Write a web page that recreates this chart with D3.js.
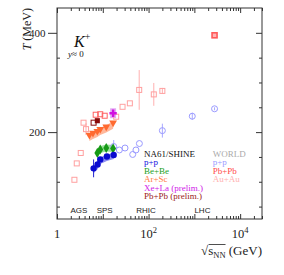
<!DOCTYPE html>
<html>
<head>
<meta charset="utf-8">
<script src="https://cdn.jsdelivr.net/npm/d3@7"></script>
<style>
body { margin: 0; background: #fff; }
svg text { font-family: "Liberation Serif", "DejaVu Serif", serif; }
svg text.sans { font-family: "Liberation Sans", Arial, sans-serif; }
</style>
</head>
<body>
<svg id="chart" width="284" height="275"></svg>
<script>
// データ: [√s_NN (GeV), T (MeV)]
const na61PP = [[6.3, 127], [7.7, 135], [8.8, 145], [12.3, 151], [17.3, 154]];
const na61PPErr = [18, 6, 5, 4, 4];
const na61PPSys = [[10, 4], [10, 4], [9, 4], [9, 4], [8, 4]];
const na61BeBe = [[7.6, 158], [8.8, 165], [11.9, 168], [16.8, 167]];
const na61BeBeSys = [[7, 7], [7, 7], [7, 7], [7, 7]];
const na61ArSc = [[5.1, 194], [6.1, 198], [7.6, 202], [8.8, 206], [11.9, 211], [16.8, 219]];
const na61ArScSys = [[12, 3], [12, 3], [12, 3], [12, 3], [12, 3], [12, 3]];
const na61XeLa = [[16.8, 238]];
const na61XeLaSys = [[10, 10]];
const na61PbPbOpen = [[6.3, 219]];
const na61PbPbFilled = [[7.6, 223]];

const worldPP = [[17.3, 171], [23, 164], [30.6, 168], [45, 155], [53, 164], [63, 177], [200, 203], [900, 232], [2760, 247]];
const worldPPErr = [13, 0, 0, 0, 0, 0, 14, 7, 3];
const worldPbPb = [[7.0, 235], [8.8, 236], [11.0, 233]];
const worldPbPbLHC = [[2760, 395]];
const worldAuAu = [[2.4, 104], [2.7, 137], [3.3, 158], [3.8, 219], [4.3, 206], [19.6, 231], [27, 251], [39, 258], [62.4, 285], [130, 276], [200, 283]];
const worldAuAuErr = [0, 0, 0, 0, 12, 0, 0, 0, 40, 23, 6];

// 軸の目盛り
const xTickLabels = [[1, "1", ""], [100, "10", "2"], [10000, "10", "4"]];
const yTickLabels = [200, 400];
const yMinorTicks = [50, 100, 150, 250, 300, 350];
const accelerators = [["AGS", 3], ["SPS", 11], ["RHIC", 88], ["LHC", 1500]];

// 凡例
const legendNA61 = [["NA61/SHINE", "#111"], ["p+p", "#1010e0"], ["Be+Be", "#1aa01a"], ["Ar+Sc", "#ff7a45"], ["Xe+La (prelim.)", "#d020e8"], ["Pb+Pb (prelim.)", "#9a2020"]];
const legendWorld = [["WORLD", "#aaa"], ["p+p", "#9a9aff"], ["Pb+Pb", "#ff4a4a"], ["Au+Au", "#ffb0b0"]];

const width = 284, height = 275;
const margin = {top: 8, right: 22, bottom: 56, left: 57};

const svg = d3.select("#chart");

const x = d3.scaleLog()
    .domain([1, 3e4])
    .range([margin.left, width - margin.right]);
const y = d3.scaleLinear()
    .domain([25, 450])
    .range([height - margin.bottom, margin.top]);

const plot = svg.append("g");

// 系統誤差の帯
function band(data, sys, color) {
    const area = d3.area()
        .x(d => x(d[0]))
        .y0((d, i) => y(d[1] - sys[i][0]))
        .y1((d, i) => y(d[1] + sys[i][1]));
    plot.append("path")
        .datum(data)
        .attr("d", area)
        .attr("fill", color);
}
band(na61PP, na61PPSys, "#8e8ef0");
band(na61BeBe, na61BeBeSys, "#9be09b");
band(na61ArSc, na61ArScSys, "#ffb89c");

// Xe+La の箱
plot.selectAll("rect.xesys")
    .data(na61XeLa)
    .enter().append("rect")
    .attr("class", "xesys")
    .attr("x", d => x(d[0]) - 3)
    .attr("y", (d, i) => y(d[1] + na61XeLaSys[i][1]))
    .attr("width", 6)
    .attr("height", (d, i) => y(d[1] - na61XeLaSys[i][0]) - y(d[1] + na61XeLaSys[i][1]))
    .attr("fill", "#e4a8f4");

// エラーバー
function errBars(data, err, color) {
    plot.selectAll(null)
        .data(data.map((d, i) => [d[0], d[1], err[i]]).filter(d => d[2] > 0))
        .enter().append("line")
        .attr("x1", d => x(d[0]))
        .attr("x2", d => x(d[0]))
        .attr("y1", d => y(d[1] - d[2]))
        .attr("y2", d => y(d[1] + d[2]))
        .attr("stroke", color)
        .attr("stroke-width", 1);
}
errBars(worldAuAu, worldAuAuErr, "#ffb0b0");
errBars(worldPP, worldPPErr, "#a8a8ff");
errBars(na61PP, na61PPErr, "#2020d0");

// WORLD の点
function openSquares(data, color, s, fill, sw) {
    plot.selectAll(null)
        .data(data)
        .enter().append("rect")
        .attr("x", d => x(d[0]) - s / 2)
        .attr("y", d => y(d[1]) - s / 2)
        .attr("width", s)
        .attr("height", s)
        .attr("fill", fill || "none")
        .attr("stroke", color)
        .attr("stroke-width", sw || 1);
}
openSquares(worldAuAu, "#ffa0a0", 5);
openSquares(worldPbPb, "#ff6262", 5);
openSquares(worldPbPbLHC, "#ff5a5a", 5, "#ffb4b4", 1.6);

plot.selectAll(null)
    .data(worldPP)
    .enter().append("circle")
    .attr("cx", d => x(d[0]))
    .attr("cy", d => y(d[1]))
    .attr("r", 3)
    .attr("fill", "none")
    .attr("stroke", "#9a9aff")
    .attr("stroke-width", 1);

// NA61/SHINE の点
function symbols(data, type, size, color, rotate) {
    plot.selectAll(null)
        .data(data)
        .enter().append("path")
        .attr("d", d3.symbol().type(type).size(size))
        .attr("transform", d => `translate(${x(d[0])},${y(d[1])}) rotate(${rotate || 0})`)
        .attr("fill", color);
}
symbols(na61ArSc, d3.symbolTriangle, 26, "#ff6a30", 180);
symbols(na61BeBe, d3.symbolDiamond, 30, "#169a16");
symbols(na61PP, d3.symbolCircle, 32, "#0a0ad0");
symbols(na61XeLa, d3.symbolCross, 30, "#d010e0");
symbols(na61PbPbFilled, d3.symbolSquare, 26, "#8a0c0c");
openSquares(na61PbPbOpen, "#8a0c0c", 5);

// 軸
const xAll = x.ticks();
const xMajor = xAll.filter(v => Number.isInteger(Math.log10(v)));
const xMinor = xAll.filter(v => !Number.isInteger(Math.log10(v)));
const yBottom = height - margin.bottom, yTop = margin.top;
const xLeft = margin.left, xRight = width - margin.right;

function addAxis(axis, transform) {
    const g = svg.append("g").attr("transform", transform).call(axis);
    g.select(".domain").remove();
    g.selectAll("line").attr("stroke", "#333");
}
addAxis(d3.axisBottom(x).tickValues(xMinor).tickSize(-3).tickFormat(""), `translate(0,${yBottom})`);
addAxis(d3.axisBottom(x).tickValues(xMajor).tickSize(-5).tickFormat(""), `translate(0,${yBottom})`);
addAxis(d3.axisTop(x).tickValues(xMinor).tickSize(-3).tickFormat(""), `translate(0,${yTop})`);
addAxis(d3.axisTop(x).tickValues(xMajor).tickSize(-5).tickFormat(""), `translate(0,${yTop})`);
addAxis(d3.axisLeft(y).tickValues(yTickLabels).tickSize(9).tickFormat(""), `translate(${xLeft},0)`);
addAxis(d3.axisLeft(y).tickValues(yMinorTicks).tickSize(-3).tickFormat(""), `translate(${xLeft},0)`);
addAxis(d3.axisRight(y).tickValues(yTickLabels).tickSize(-6).tickFormat(""), `translate(${xRight},0)`);
addAxis(d3.axisRight(y).tickValues(yMinorTicks).tickSize(-3).tickFormat(""), `translate(${xRight},0)`);

svg.append("rect")
    .attr("x", xLeft)
    .attr("y", yTop)
    .attr("width", xRight - xLeft)
    .attr("height", yBottom - yTop)
    .attr("fill", "none")
    .attr("stroke", "#333")
    .attr("stroke-width", 1);

// 目盛りラベル
const xl = svg.selectAll("text.xlab")
    .data(xTickLabels)
    .enter().append("text")
    .attr("class", "xlab")
    .attr("x", d => x(d[0]))
    .attr("y", 238)
    .attr("text-anchor", "middle")
    .attr("font-size", 12.5)
    .attr("fill", "#222");
xl.append("tspan").text(d => d[1]);
xl.append("tspan").attr("dy", -5).attr("font-size", 8.5).text(d => d[2]);

svg.selectAll("text.ylab")
    .data(yTickLabels)
    .enter().append("text")
    .attr("class", "ylab")
    .attr("x", 45.5)
    .attr("y", d => y(d) + 3.8)
    .attr("text-anchor", "end")
    .attr("font-size", 11)
    .attr("fill", "#222")
    .text(d => d);

// 軸タイトル
const yt = svg.append("text")
    .attr("transform", "translate(31,8) rotate(-90)")
    .attr("text-anchor", "end")
    .attr("font-size", 12)
    .attr("fill", "#222");
yt.append("tspan").attr("font-style", "italic").text("T");
yt.append("tspan").text(" (MeV)");

const xt = svg.append("text")
    .attr("x", xRight)
    .attr("y", 255)
    .attr("text-anchor", "end")
    .attr("font-size", 13)
    .attr("fill", "#222");
const sq = xt.append("tspan").text("\u221A");
xt.append("tspan").text("s");
const nn = xt.append("tspan").attr("dy", 3).attr("font-size", 8.5).text("NN");
xt.append("tspan").attr("dy", -3).text(" (GeV)");
const b1 = sq.node().getBBox(), b2 = nn.node().getBBox();
svg.append("line")
    .attr("x1", b1.x + b1.width - 0.5)
    .attr("x2", b2.x + b2.width)
    .attr("y1", b1.y + 1.5)
    .attr("y2", b1.y + 1.5)
    .attr("stroke", "#222")
    .attr("stroke-width", 0.8);

// K+ と y≈0
const kt = svg.append("text")
    .attr("x", 74)
    .attr("y", 47)
    .attr("font-size", 16)
    .attr("font-style", "italic")
    .attr("fill", "#111");
kt.append("tspan").text("K");
kt.append("tspan").attr("dy", -7).attr("font-size", 10).attr("font-style", "normal").text("+");
const yr = svg.append("text")
    .attr("x", 68)
    .attr("y", 57)
    .attr("font-size", 9)
    .attr("fill", "#111");
yr.append("tspan").attr("font-style", "italic").text("y");
yr.append("tspan").text("\u2248 0");

// 加速器の名前
svg.selectAll("text.acc")
    .data(accelerators)
    .enter().append("text")
    .attr("class", "sans")
    .attr("x", d => x(d[1]))
    .attr("y", 213.3)
    .attr("text-anchor", "middle")
    .attr("font-size", 8)
    .attr("fill", "#222")
    .text(d => d[0]);

// 凡例
svg.selectAll("text.leg1")
    .data(legendNA61)
    .enter().append("text")
    .attr("x", 144)
    .attr("y", (d, i) => 156.7 + i * 8.5)
    .attr("font-size", 9)
    .attr("fill", d => d[1])
    .text(d => d[0]);
svg.selectAll("text.leg2")
    .data(legendWorld)
    .enter().append("text")
    .attr("x", 212.7)
    .attr("y", (d, i) => 156.7 + i * 8.5)
    .attr("font-size", 9)
    .attr("fill", d => d[1])
    .text(d => d[0]);
</script>
</body>
</html>
